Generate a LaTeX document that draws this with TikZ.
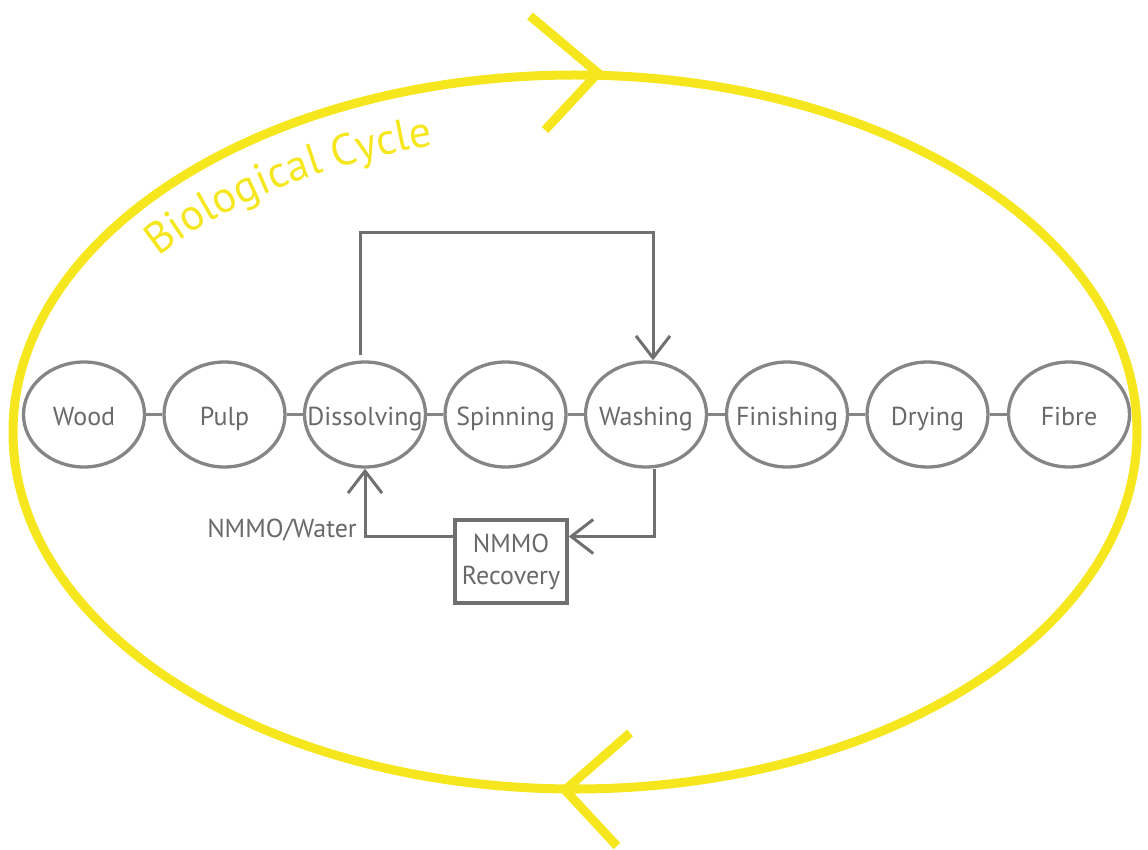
\documentclass[tikz,border=0pt]{standalone}
\usepackage{fontspec}
\setmainfont{PT Sans}
\usetikzlibrary{shapes.geometric,arrows.meta,decorations.text}
\definecolor{bioyellow}{RGB}{245,230,30}
\definecolor{ringgray}{RGB}{133,133,133}
\definecolor{linegray}{RGB}{112,112,112}
\definecolor{textgray}{RGB}{105,105,105}
\newcommand{\bigbio}{\fontsize{44}{44}\selectfont}
\newcommand{\zw}[1]{\makebox[0pt]{#1}}
\begin{document}
\begin{tikzpicture}[x=1pt,y=-1pt,
  stage/.style={ellipse,draw=ringgray,line width=3.3pt,minimum width=121pt,minimum height=105pt,inner sep=0pt,text height=24pt,text depth=3pt,text=textgray,font=\fontsize{26}{28}\selectfont},
  link/.style={draw=ringgray,line width=3.3pt},
  flow/.style={draw=linegray,line width=3pt},
  chev/.style={-{Straight Barb[length=22pt,width=34pt,line width=3pt]}},
  recbox/.style={rectangle,draw=linegray,line width=3.5pt,minimum width=112pt,minimum height=83pt,inner sep=0pt,text=textgray,align=center,font=\fontsize{26}{32}\selectfont},
  lbl/.style={text=textgray,font=\fontsize{26}{28}\selectfont,inner sep=0pt},
  cyc/.style={draw=bioyellow,line width=9pt}
]
\useasboundingbox (0,0) rectangle (1148,850);
% biological cycle ellipse
\draw[cyc] (575,432) ellipse[x radius=562, y radius=357];
\coordinate (ta1) at (530,16);
\coordinate (ttip) at (598,73);
\coordinate (ta2) at (545,130);
\draw[cyc] (ta1) -- (ttip) -- (ta2);
\coordinate (ba1) at (630,733);
\coordinate (btip) at (565,790);
\coordinate (ba2) at (617,846);
\draw[cyc] (ba1) -- (btip) -- (ba2);
\path[decorate,decoration={text along path,text align=left,text color=bioyellow,text={|\bigbio|Biological Cycle}}]
  (575,432) ++(-144:515 and 298) arc[start angle=-144,end angle=-90,x radius=515,y radius=298];
% stages
\node[stage] (wood) at (84,414.5) {\zw{Wood}};
\node[stage] (pulp) at (224.5,414.5) {\zw{Pulp}};
\node[stage] (dis) at (365,414.5) {\zw{Dissolving}};
\node[stage] (spin) at (505.5,414.5) {\zw{Spinning}};
\node[stage] (wash) at (646,414.5) {\zw{Washing}};
\node[stage] (fin) at (787,414.5) {\zw{Finishing}};
\node[stage] (dry) at (927.5,414.5) {\zw{Drying}};
\node[stage] (fib) at (1069,414.5) {\zw{Fibre}};
\draw[link] (wood) -- (pulp);
\draw[link] (pulp) -- (dis);
\draw[link] (dis) -- (spin);
\draw[link] (spin) -- (wash);
\draw[link] (wash) -- (fin);
\draw[link] (fin) -- (dry);
\draw[link] (dry) -- (fib);
% recovery loop
\node[recbox] (rec) at (511,561.5) {NMMO\\Recovery};
\draw[flow,chev] ([xshift=-5pt,yshift=5pt]dis.north) -- ++(0,-123) -| ([xshift=7pt]wash.north);
\draw[flow,chev] ([xshift=8pt]wash.south) |- ([yshift=25pt]rec.east);
\draw[flow,chev] ([yshift=25pt]rec.west) -| (dis.south);
\node[lbl,anchor=east] (nw) at (357,530) {NMMO/Water};
\end{tikzpicture}
\end{document}
